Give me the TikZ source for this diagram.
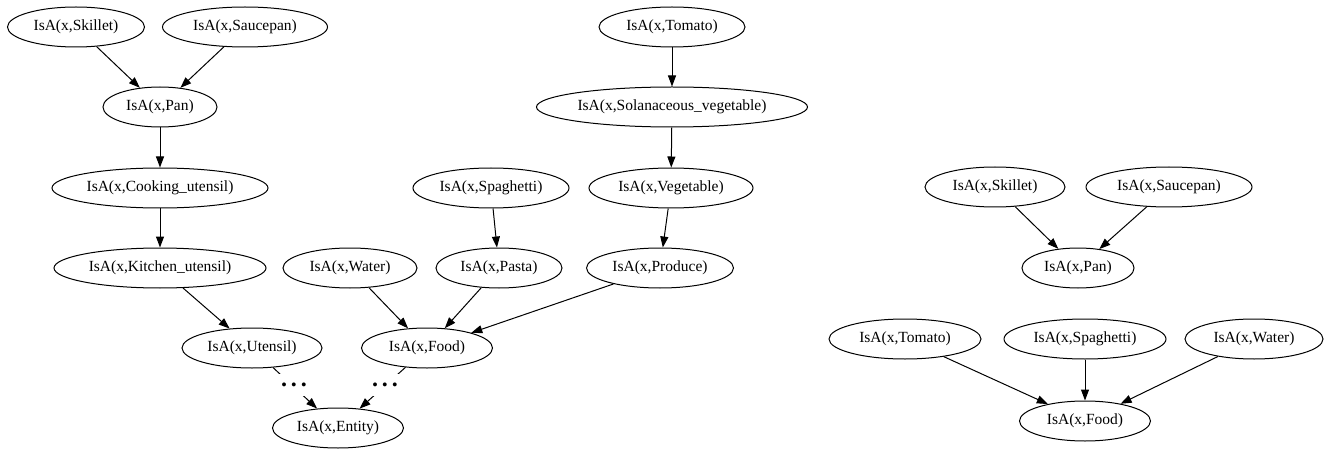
\documentclass[tikz,border=0pt]{standalone}
\usepackage{fontspec}
\setmainfont{Liberation Serif}
\usetikzlibrary{shapes.geometric,arrows.meta}
\tikzset{
  gnode/.style={ellipse, draw, line width=1pt, inner sep=0pt, minimum height=40pt,
    font=\fontsize{15.5}{18}\selectfont},
  gedge/.style={line width=1pt, -{Triangle[length=11pt,width=8pt]}},
  dotsbox/.style={fill=white, inner sep=0pt, minimum width=32pt, minimum height=22pt,
    font=\fontsize{24}{24}\selectfont\bfseries}
}
\begin{document}
\begin{tikzpicture}[x=1pt,y=-1pt]
\useasboundingbox (0,0) rectangle (1330,449);
% left graph
\node[gnode, minimum width=137pt] (sk)  at (76,27)  {IsA(x,Skillet)};
\node[gnode, minimum width=165pt] (sp)  at (245,27) {IsA(x,Saucepan)};
\node[gnode, minimum width=146pt] (to)  at (672,27) {IsA(x,Tomato)};
\node[gnode, minimum width=114pt] (pan) at (160,107) {IsA(x,Pan)};
\node[gnode, minimum width=271pt] (sol) at (672,107) {IsA(x,Solanaceous\_vegetable)};
\node[gnode, minimum width=216pt] (cook) at (160,188) {IsA(x,Cooking\_utensil)};
\node[gnode, minimum width=156pt] (spa) at (491,188) {IsA(x,Spaghetti)};
\node[gnode, minimum width=164pt] (veg) at (671,188) {IsA(x,Vegetable)};
\node[gnode, minimum width=212pt] (kit) at (160,268) {IsA(x,Kitchen\_utensil)};
\node[gnode, minimum width=134pt] (wat) at (350,268) {IsA(x,Water)};
\node[gnode, minimum width=126pt] (pas) at (499,268) {IsA(x,Pasta)};
\node[gnode, minimum width=147pt] (pro) at (660,268) {IsA(x,Produce)};
\node[gnode, minimum width=140pt] (ute) at (252,348) {IsA(x,Utensil)};
\node[gnode, minimum width=131pt] (food) at (427,348) {IsA(x,Food)};
\node[gnode, minimum width=131pt] (ent) at (338,428) {IsA(x,Entity)};
\draw[gedge] (sk) -- (pan);
\draw[gedge] (sp) -- (pan);
\draw[gedge] (pan) -- (cook);
\draw[gedge] (cook) -- (kit);
\draw[gedge] (kit) -- (ute);
\draw[gedge] (to) -- (sol);
\draw[gedge] (sol) -- (veg);
\draw[gedge] (veg) -- (pro);
\draw[gedge] (spa) -- (pas);
\draw[gedge] (wat) -- (food);
\draw[gedge] (pas) -- (food);
\draw[gedge] (pro) -- (food);
\draw[gedge] (ute) -- (ent);
\draw[gedge] (food) -- (ent);
\node[dotsbox] (d1) at (294,385) {.\,.\,.};
\node[dotsbox] (d2) at (385,385) {.\,.\,.};
% right top graph
\node[gnode, minimum width=140pt] (sk2) at (995,187) {IsA(x,Skillet)};
\node[gnode, minimum width=166pt] (sp2) at (1169,187) {IsA(x,Saucepan)};
\node[gnode, minimum width=112pt] (pan2) at (1078,268) {IsA(x,Pan)};
\draw[gedge] (sk2) -- (pan2);
\draw[gedge] (sp2) -- (pan2);
% right bottom graph
\node[gnode, minimum width=152pt] (to2) at (905,339) {IsA(x,Tomato)};
\node[gnode, minimum width=162pt] (spa2) at (1085,339) {IsA(x,Spaghetti)};
\node[gnode, minimum width=138pt] (wat2) at (1254,339) {IsA(x,Water)};
\node[gnode, minimum width=131pt] (food2) at (1085,421) {IsA(x,Food)};
\draw[gedge] (to2) -- (food2);
\draw[gedge] (spa2) -- (food2);
\draw[gedge] (wat2) -- (food2);
\end{tikzpicture}
\end{document}
